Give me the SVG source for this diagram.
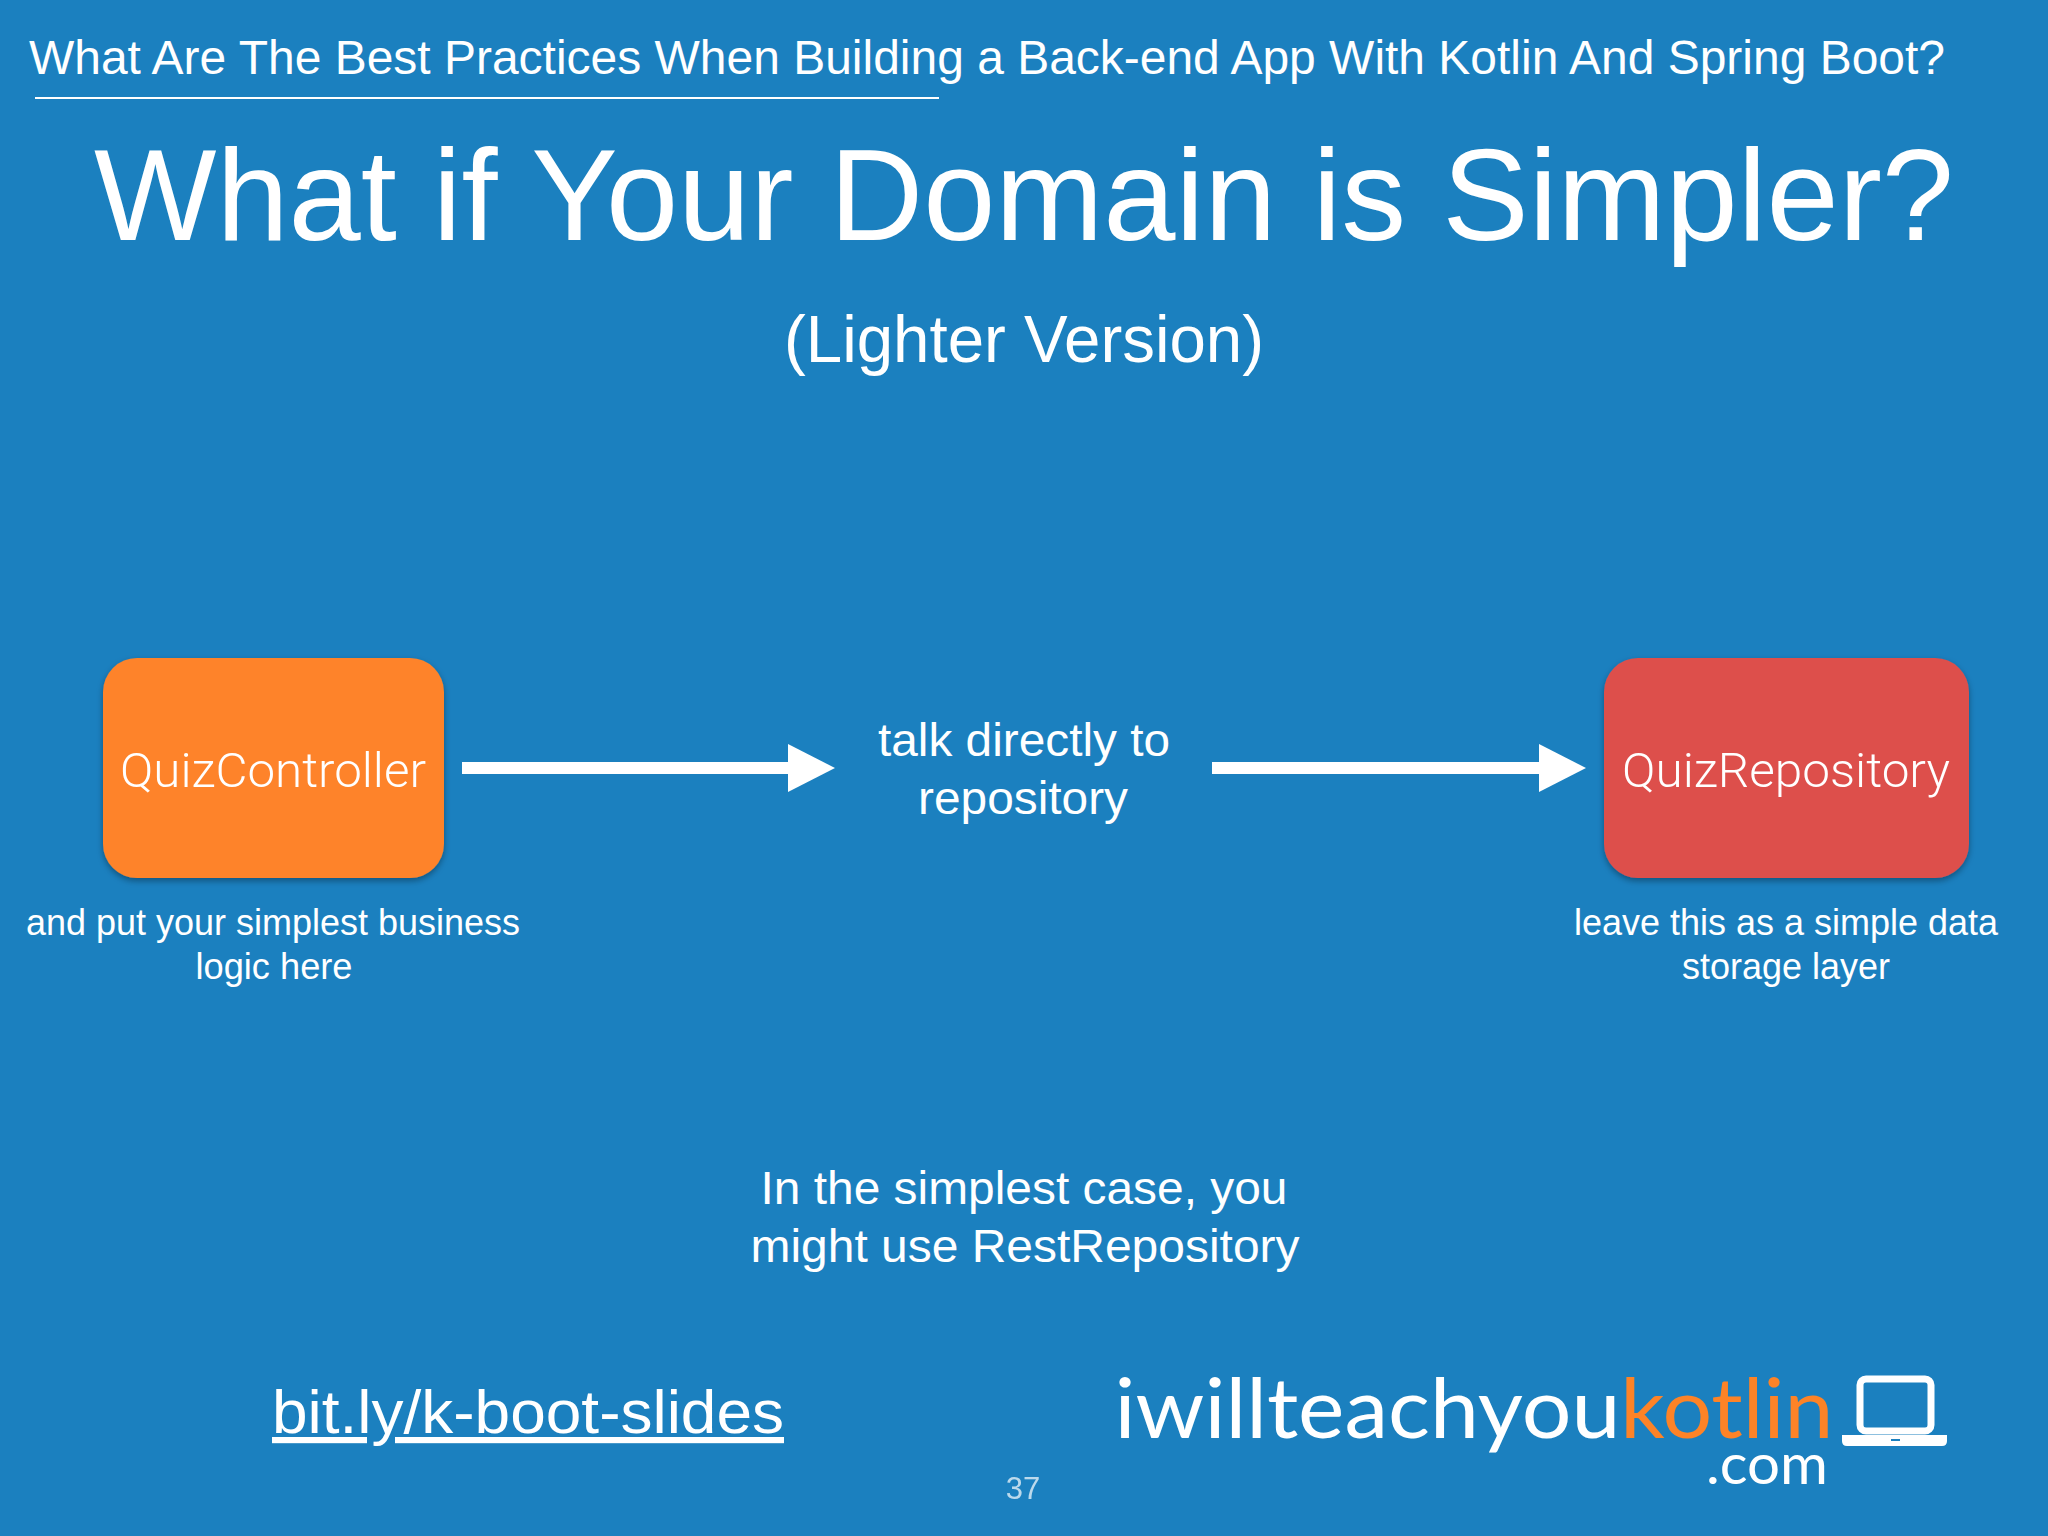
<svg xmlns="http://www.w3.org/2000/svg" width="2048" height="1536" viewBox="0 0 2048 1536">
<defs><style>
text{font-family:"Liberation Sans",Arial,sans-serif;fill:#fff;text-anchor:middle}
.l{font-family:Roboto,"Liberation Sans",sans-serif;font-weight:300}
.logo{font-family:Lato,"Open Sans",sans-serif}
text .k{fill:#fd8327}
</style>
<filter id="s" x="-10%" y="-10%" width="120%" height="125%"><feDropShadow dx="0" dy="3" stdDeviation="3" flood-color="#000" flood-opacity=".35"/></filter>
<marker id="a" markerUnits="userSpaceOnUse" markerWidth="48" markerHeight="48" refX="1" refY="24" orient="auto"><path d="M0 0L47 24L0 48Z" fill="#fff"/></marker>
</defs>
<rect width="2048" height="1536" fill="#1b80bf"/>
<text x="987" y="74" font-size="47.5" textLength="1916" lengthAdjust="spacingAndGlyphs">What Are The Best Practices When Building a Back-end App With Kotlin And Spring Boot?</text>
<rect x="35" y="97" width="904" height="2" fill="#fff"/>
<text x="1024" y="240" font-size="130" textLength="1860" lengthAdjust="spacingAndGlyphs">What if Your Domain is Simpler?</text>
<text x="1024" y="362" font-size="66" textLength="480" lengthAdjust="spacingAndGlyphs">(Lighter Version)</text>
<g id="connectors">
<path d="M462 768H789" stroke="#fff" stroke-width="12" fill="none" marker-end="url(#a)"/>
<path d="M1212 768H1540" stroke="#fff" stroke-width="12" fill="none" marker-end="url(#a)"/>
</g>
<g id="quizcontroller"><rect x="103" y="658" width="341" height="220" rx="34" fill="#fe8329" filter="url(#s)"/><text class="l" x="273" y="787" font-size="48" textLength="306" lengthAdjust="spacingAndGlyphs">QuizController</text></g>
<g id="quizrepository"><rect x="1604" y="658" width="365" height="220" rx="34" fill="#dd4f4c" filter="url(#s)"/><text class="l" x="1786" y="787" font-size="48" textLength="328" lengthAdjust="spacingAndGlyphs">QuizRepository</text></g>
<g id="talk"><text x="1024" y="756" font-size="47" textLength="292" lengthAdjust="spacingAndGlyphs">talk directly to</text><text x="1023" y="814" font-size="47" textLength="210" lengthAdjust="spacingAndGlyphs">repository</text></g>
<g id="left-note"><text x="273" y="935" font-size="36" textLength="494" lengthAdjust="spacingAndGlyphs">and put your simplest business</text><text x="274" y="979" font-size="36" textLength="157" lengthAdjust="spacingAndGlyphs">logic here</text></g>
<g id="right-note"><text x="1786" y="935" font-size="36" textLength="424" lengthAdjust="spacingAndGlyphs">leave this as a simple data</text><text x="1786" y="979" font-size="36" textLength="208" lengthAdjust="spacingAndGlyphs">storage layer</text></g>
<g id="case"><text x="1024" y="1204" font-size="47" textLength="527" lengthAdjust="spacingAndGlyphs">In the simplest case, you</text><text x="1025" y="1262" font-size="47" textLength="549" lengthAdjust="spacingAndGlyphs">might use RestRepository</text></g>
<text x="528" y="1433" font-size="62" textLength="512" lengthAdjust="spacingAndGlyphs" text-decoration="underline">bit.ly/k-boot-slides</text>
<text x="1023" y="1499" font-size="31" opacity=".7">37</text>
<g id="logo">
<text class="logo" x="1474" y="1438" font-size="84" textLength="719" lengthAdjust="spacingAndGlyphs">iwillteachyou<tspan class="k">kotlin</tspan></text>
<text class="logo" x="1767" y="1484" font-size="56" textLength="122" lengthAdjust="spacingAndGlyphs">.com</text>
<rect x="1860" y="1379" width="71" height="52" rx="6" fill="none" stroke="#fff" stroke-width="7"/>
<path d="M1842 1435H1947V1441Q1947 1446 1942 1446H1847Q1842 1446 1842 1441Z" fill="#fff"/>
<rect x="1891" y="1439" width="9" height="2" fill="#1b80bf"/>
</g>
</svg>
